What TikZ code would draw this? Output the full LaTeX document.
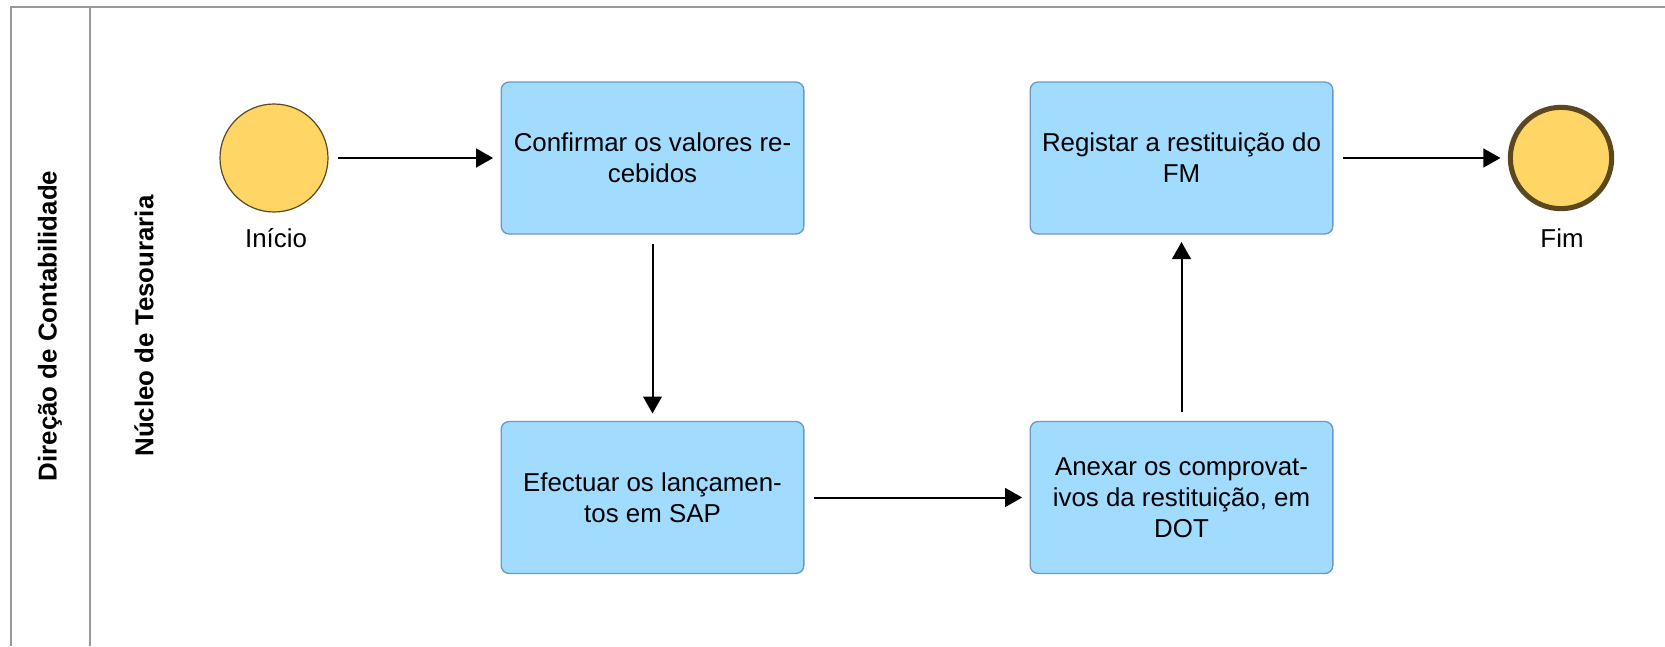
\documentclass[tikz,border=0pt]{standalone}
\usepackage{fontspec}
\setmainfont{Liberation Sans}
\usepackage{tikz}
\usetikzlibrary{arrows.meta, positioning}
\definecolor{lanegray}{RGB}{153,153,153}
\definecolor{taskfill}{RGB}{161,220,255}
\definecolor{taskedge}{RGB}{108,150,204}
\definecolor{evfill}{RGB}{255,214,102}
\definecolor{evedge}{RGB}{92,72,30}
\definecolor{mydark}{RGB}{0,0,0}
\tikzset{
  task/.style={rectangle, draw=taskedge, fill=taskfill,
    minimum width=227pt, minimum height=114pt, align=center,
    font=\fontsize{19.4pt}{23.4pt}\selectfont, rounded corners=6pt, line width=1pt},
  startev/.style={circle, draw=evedge, fill=evfill,
    minimum size=81pt, inner sep=0pt, line width=0.9pt},
  endev/.style={circle, draw=evedge, fill=evfill,
    minimum size=76pt, inner sep=0pt, line width=3.8pt},
  evlabel/.style={font=\fontsize{19.4pt}{23.4pt}\selectfont},
  lanelabel/.style={rotate=90, font=\fontsize{19.4pt}{23.4pt}\selectfont\bfseries},
  flow/.style={-{Triangle[length=12.75pt, width=14pt]}, line width=1.5pt, color=mydark,
    shorten <=7pt, shorten >=5.5pt},
  laneline/.style={line width=1.5pt, color=lanegray}
}
\begin{document}
\begin{tikzpicture}[x=0.75pt, y=-0.75pt]
  \useasboundingbox (0,0) rectangle (1665,646);
  % Pool and lane
  \draw[laneline] (10.5,646) -- (10.5,6.5) -- (1665,6.5);
  \draw[laneline] (90,6.5) -- (90,646);
  \node[lanelabel] (pool) at (50,326) {Direção de Contabilidade};
  \node[lanelabel] (lane) at (144,326) {Núcleo de Tesouraria};

  % Events
  \node[startev] (start) at (274,158) {};
  \node[evlabel] (startlbl) at (276,238) {Início};
  \node[endev] (end) at (1561,158) {};
  \node[evlabel] (endlbl) at (1562,238) {Fim};

  % Tasks
  \node[task] (confirm) at (652.5,158) {Confirmar os valores re-\\cebidos};
  \node[task] (post) at (652.5,497.5) {Efectuar os lançamen-\\tos em SAP};
  \node[task] (attach) at (1181.5,497.5) {Anexar os comprovat-\\ivos da restituição, em\\DOT};
  \node[task] (record) at (1181.5,158) {Registar a restituição do\\FM};

  % Flows
  \draw[flow] (start) -- (confirm);
  \draw[flow] (confirm) -- (post);
  \draw[flow] (post) -- (attach);
  \draw[flow] (attach) -- (record);
  \draw[flow] (record) -- (end);
\end{tikzpicture}
\end{document}
